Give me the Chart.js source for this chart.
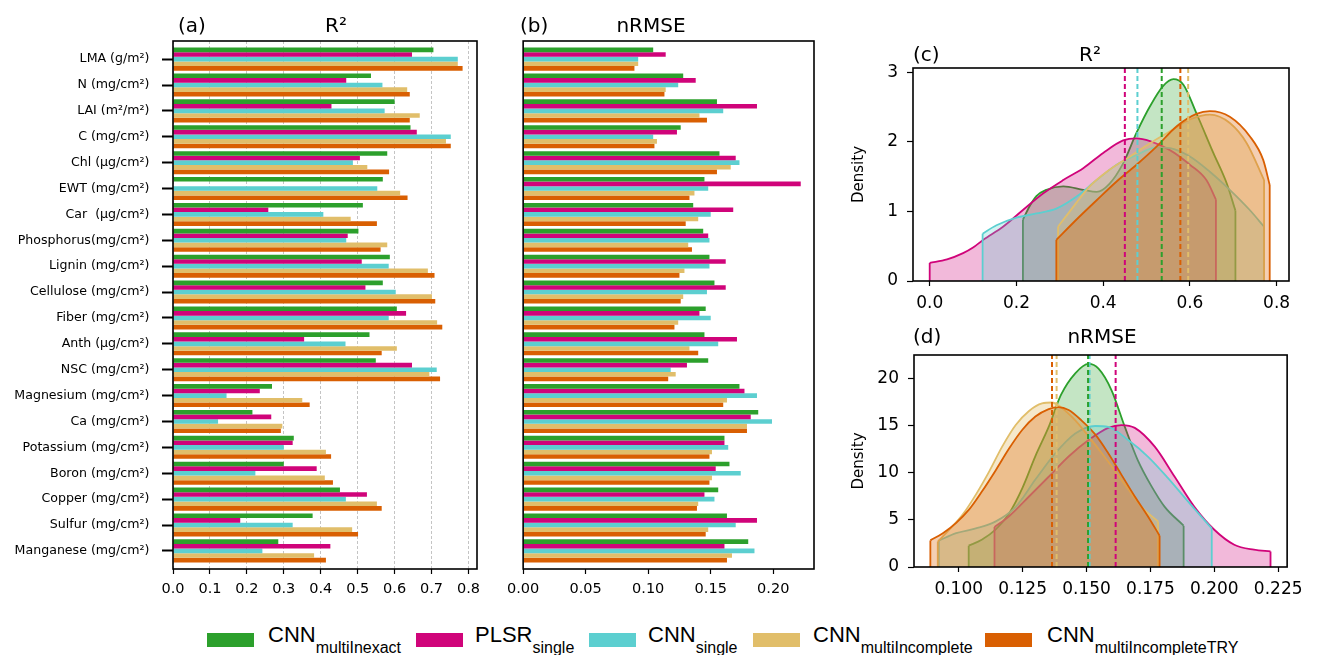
<!DOCTYPE html>
<html>
<head>
<meta charset="utf-8">
<script src="https://cdn.jsdelivr.net/npm/chart.js@4.4.0/dist/chart.umd.min.js"></script>
<style>
  body { margin: 0; background: #fff; width: 1320px; height: 655px; position: relative; overflow: hidden; font-family: 'DejaVu Sans'; }
  canvas { position: absolute; }
  .ttl { position: absolute; font-size: 20px; line-height: 24px; white-space: nowrap; color: #000; }
  .ctr { transform: translateX(-50%); }
  .sw { position: absolute; top: 633px; width: 47px; height: 14px; }
  .lg { position: absolute; top: 624px; font-family: 'Liberation Sans'; font-size: 22px; line-height: 22px; white-space: nowrap; color: #000; }
  .lg sub { font-size: 16px; vertical-align: baseline; position: relative; top: 11px; }
</style>
</head>
<body>
<canvas id="ca" width="495" height="610" style="left:0;top:0"></canvas>
<canvas id="cb" width="330" height="610" style="left:500px;top:0"></canvas>
<canvas id="cc" width="480" height="290" style="left:830px;top:30px"></canvas>
<canvas id="cd" width="480" height="290" style="left:830px;top:320px"></canvas>

<div class="ttl" style="left:178px;top:13px">(a)</div>
<div class="ttl ctr" style="left:336px;top:13px">R²</div>
<div class="ttl" style="left:520px;top:13px">(b)</div>
<div class="ttl ctr" style="left:651px;top:13px">nRMSE</div>
<div class="ttl" style="left:913px;top:42px">(c)</div>
<div class="ttl ctr" style="left:1090px;top:42px">R²</div>
<div class="ttl" style="left:913px;top:324px">(d)</div>
<div class="ttl ctr" style="left:1102px;top:324px">nRMSE</div>

<div id="legend"></div>

<script>
// panel (a)/(b) categories, top to bottom
const categories = ['LMA (g/m²)', 'N (mg/cm²)', 'LAI (m²/m²)', 'C (mg/cm²)', 'Chl (µg/cm²)',
  'EWT (mg/cm²)', 'Car  (µg/cm²)', 'Phosphorus(mg/cm²)', 'Lignin (mg/cm²)', 'Cellulose (mg/cm²)',
  'Fiber (mg/cm²)', 'Anth (µg/cm²)', 'NSC (mg/cm²)', 'Magnesium (mg/cm²)', 'Ca (mg/cm²)',
  'Potassium (mg/cm²)', 'Boron (mg/cm²)', 'Copper (mg/cm²)', 'Sulfur (mg/cm²)', 'Manganese (mg/cm²)'];

const seriesMain = ['CNN', 'PLSR', 'CNN', 'CNN', 'CNN'];
const seriesSub = ['multiInexact', 'single', 'single', 'multiIncomplete', 'multiIncompleteTRY'];
const colors = ['#2ca02c', '#d0047a', '#5ccfd0', '#e1be6a', '#d95f02'];
const fills = ['rgba(44,160,44,0.28)', 'rgba(208,4,122,0.28)', 'rgba(92,207,208,0.28)', 'rgba(225,190,106,0.35)', 'rgba(217,95,2,0.3)'];

// R2 per category
const r2Green   = [0.705, 0.536, 0.600, 0.643, 0.580, 0.568, 0.514, 0.502, 0.587, 0.568, 0.606, 0.532, 0.549, 0.268, 0.215, 0.327, 0.300, 0.452, 0.378, 0.285];
const r2Magenta = [0.647, 0.469, 0.429, 0.660, 0.506, 0.000, 0.258, 0.473, 0.511, 0.521, 0.631, 0.355, 0.647, 0.235, 0.266, 0.324, 0.389, 0.525, 0.182, 0.426];
const r2Cyan    = [0.771, 0.567, 0.573, 0.752, 0.487, 0.553, 0.407, 0.469, 0.584, 0.603, 0.584, 0.467, 0.714, 0.145, 0.122, 0.300, 0.223, 0.468, 0.324, 0.242];
const r2Tan     = [0.771, 0.634, 0.668, 0.739, 0.526, 0.615, 0.481, 0.580, 0.690, 0.701, 0.715, 0.606, 0.694, 0.350, 0.296, 0.414, 0.411, 0.552, 0.485, 0.382];
const r2Orange  = [0.784, 0.641, 0.641, 0.752, 0.585, 0.635, 0.552, 0.562, 0.708, 0.710, 0.729, 0.565, 0.723, 0.370, 0.292, 0.428, 0.433, 0.565, 0.501, 0.414];

// nRMSE per category
const nGreen   = [0.104, 0.128, 0.155, 0.126, 0.157, 0.145, 0.136, 0.144, 0.149, 0.153, 0.146, 0.145, 0.148, 0.173, 0.188, 0.161, 0.165, 0.156, 0.163, 0.180];
const nMagenta = [0.114, 0.138, 0.187, 0.123, 0.170, 0.222, 0.168, 0.148, 0.162, 0.162, 0.141, 0.171, 0.131, 0.177, 0.182, 0.161, 0.154, 0.145, 0.187, 0.161];
const nCyan    = [0.092, 0.124, 0.160, 0.104, 0.173, 0.148, 0.150, 0.149, 0.149, 0.147, 0.150, 0.156, 0.118, 0.187, 0.199, 0.164, 0.174, 0.153, 0.170, 0.185];
const nTan     = [0.092, 0.114, 0.141, 0.107, 0.166, 0.137, 0.140, 0.132, 0.129, 0.128, 0.124, 0.133, 0.122, 0.163, 0.179, 0.151, 0.151, 0.140, 0.148, 0.167];
const nOrange  = [0.089, 0.113, 0.147, 0.105, 0.155, 0.133, 0.130, 0.135, 0.125, 0.126, 0.121, 0.140, 0.116, 0.160, 0.179, 0.149, 0.149, 0.139, 0.146, 0.163];

// density curves (c), [x, density]
const r2DensGreen   = [[0.215,0.88],[0.230,1.07],[0.246,1.22],[0.269,1.31],[0.308,1.36],[0.354,1.31],[0.385,1.28],[0.415,1.40],[0.446,1.69],[0.477,2.13],[0.508,2.51],[0.538,2.80],[0.562,2.90],[0.585,2.82],[0.615,2.41],[0.654,1.84],[0.685,1.40],[0.705,1.01]];
const r2DensMagenta = [[0.000,0.26],[0.040,0.31],[0.077,0.40],[0.100,0.48],[0.123,0.59],[0.169,0.78],[0.215,1.02],[0.262,1.26],[0.308,1.45],[0.354,1.62],[0.400,1.84],[0.446,2.02],[0.477,2.05],[0.508,2.01],[0.554,1.88],[0.600,1.67],[0.638,1.45],[0.660,1.17]];
const r2DensCyan    = [[0.122,0.68],[0.154,0.80],[0.200,0.91],[0.246,0.97],[0.292,1.04],[0.338,1.21],[0.385,1.45],[0.431,1.67],[0.477,1.81],[0.523,1.92],[0.554,1.91],[0.600,1.79],[0.646,1.57],[0.692,1.31],[0.738,1.02],[0.771,0.78]];
const r2DensTan     = [[0.296,0.78],[0.323,1.00],[0.369,1.36],[0.415,1.60],[0.462,1.79],[0.508,1.98],[0.554,2.15],[0.600,2.32],[0.646,2.39],[0.692,2.27],[0.731,1.98],[0.771,1.45]];
const r2DensOrange  = [[0.292,0.59],[0.338,0.88],[0.385,1.16],[0.431,1.43],[0.477,1.67],[0.523,1.93],[0.569,2.22],[0.615,2.40],[0.646,2.44],[0.692,2.36],[0.738,2.08],[0.769,1.74],[0.784,1.38]];
const r2Medians = [0.535, 0.450, 0.479, 0.596, 0.578];

// density curves (d)
const nDensGreen   = [[0.1039,2.27],[0.109,2.9],[0.1145,4.0],[0.1197,5.7],[0.1249,8.4],[0.130,11.8],[0.1352,14.9],[0.140,18.3],[0.1456,20.6],[0.1508,21.6],[0.1547,21.1],[0.1598,18.8],[0.165,14.9],[0.170,11.4],[0.1754,8.6],[0.1806,6.4],[0.188,4.4]];
const nDensMagenta = [[0.114,4.25],[0.1197,5.4],[0.1275,7.5],[0.1352,9.6],[0.143,11.75],[0.1508,13.5],[0.1585,14.8],[0.1637,15.1],[0.1689,14.8],[0.1767,12.8],[0.1845,9.6],[0.1922,6.4],[0.200,3.96],[0.2078,2.37],[0.2155,1.84],[0.222,1.66]];
const nDensCyan    = [[0.0922,2.8],[0.099,3.6],[0.1067,4.1],[0.1145,4.85],[0.1223,6.4],[0.130,9.3],[0.1378,12.1],[0.1456,14.2],[0.1534,15.0],[0.1585,14.9],[0.1663,13.5],[0.174,11.75],[0.1819,9.45],[0.1896,7.0],[0.199,4.1]];
const nDensTan     = [[0.0918,2.7],[0.0964,4.0],[0.1016,5.6],[0.1067,7.7],[0.112,10.2],[0.117,12.8],[0.1223,15.1],[0.1275,16.6],[0.1326,17.4],[0.1365,17.5],[0.140,17.0],[0.1456,15.6],[0.1508,13.9],[0.156,12.1],[0.161,10.3],[0.166,8.4],[0.1715,6.4],[0.178,4.85]];
const nDensOrange  = [[0.0889,2.83],[0.0938,3.6],[0.099,4.7],[0.104,6.1],[0.109,8.0],[0.1145,10.3],[0.1197,12.6],[0.1249,14.6],[0.130,16.0],[0.1352,16.8],[0.139,17.0],[0.143,16.7],[0.148,15.6],[0.1534,14.1],[0.1585,12.1],[0.1637,9.8],[0.1689,7.5],[0.174,5.4],[0.1786,3.33]];
const nMedians = [0.1506, 0.1614, 0.1512, 0.1383, 0.1365];

// tick labels
const r2BarTicks = [0, 0.1, 0.2, 0.3, 0.4, 0.5, 0.6, 0.7, 0.8];
const nBarTicks = [0, 0.05, 0.10, 0.15, 0.20];
const r2DensXTicks = [0, 0.2, 0.4, 0.6, 0.8];
const r2DensYTicks = [0, 1, 2, 3];
const nDensXTicks = [0.100, 0.125, 0.150, 0.175, 0.200, 0.225];
const nDensYTicks = [0, 5, 10, 15, 20];

const R2_DENS_YMAX = 3.06;
const N_DENS_YMAX = 22.55;

Chart.defaults.font.family = 'DejaVu Sans';
Chart.defaults.color = '#000';
Chart.defaults.animation = false;
Chart.defaults.responsive = false;
Chart.defaults.devicePixelRatio = 1;
Chart.defaults.plugins.legend.display = false;
Chart.defaults.plugins.tooltip.enabled = false;

// black box round the plot area
const frame = {
  id: 'frame',
  afterDraw(chart) {
    const { ctx, chartArea: a } = chart;
    ctx.save();
    ctx.strokeStyle = '#000';
    ctx.lineWidth = 1.6;
    ctx.strokeRect(a.left, a.top, a.right - a.left, a.bottom - a.top);
    ctx.restore();
  }
};

const setTicks = list => scale => { scale.ticks = list.map(v => ({ value: v })); };

function barSets(rows) {
  return rows.map((row, k) => ({
    label: seriesMain[k] + seriesSub[k],
    data: row.map((v, i) => ({ x: v, y: i })),
    backgroundColor: colors[k],
    borderWidth: 0,
    categoryPercentage: 0.89,
    barPercentage: 1
  }));
}

function catAxis(showLabels) {
  return {
    type: 'linear', reverse: true, min: -0.7, max: 19.7, offset: false,
    display: showLabels,
    afterBuildTicks: setTicks(categories.map((c, i) => i)),
    afterFit: s => { s.width = showLabels ? 173 : 0; },
    ticks: { autoSkip: false, callback: v => categories[v], font: { size: 12.6 }, padding: 12.5 },
    grid: { offset: false, drawOnChartArea: false, drawTicks: true, tickLength: 11, tickWidth: 2, tickColor: '#000' },
    border: { display: false }
  };
}

// (a) R2 bars
new Chart(document.getElementById('ca'), {
  type: 'bar',
  data: { datasets: barSets([r2Green, r2Magenta, r2Cyan, r2Tan, r2Orange]) },
  options: {
    indexAxis: 'y',
    layout: { padding: { left: 0, top: 41, right: 18, bottom: 0 } },
    scales: {
      x: {
        type: 'linear', min: 0, max: 0.823,
        afterBuildTicks: setTicks(r2BarTicks),
        afterFit: s => { s.height = 41; },
        ticks: { callback: v => v.toFixed(1), font: { size: 14.5 }, padding: 7, autoSkip: false, maxRotation: 0, minRotation: 0 },
        grid: { color: '#b5b5b5', lineWidth: 0.8, tickLength: 5, tickColor: '#000', tickWidth: 1.2, tickBorderDash: [] },
        border: { display: false, dash: [3, 2] }
      },
      y: catAxis(true)
    }
  },
  plugins: [frame]
});

// (b) nRMSE bars
new Chart(document.getElementById('cb'), {
  type: 'bar',
  data: { datasets: barSets([nGreen, nMagenta, nCyan, nTan, nOrange]) },
  options: {
    indexAxis: 'y',
    layout: { padding: { left: 14, top: 41, right: 16, bottom: 0 } },
    scales: {
      x: {
        type: 'linear', min: 0, max: 0.2326,
        afterBuildTicks: setTicks(nBarTicks),
        afterFit: s => { s.height = 41; },
        ticks: { callback: v => v.toFixed(2), font: { size: 14.5 }, padding: 7, autoSkip: false, maxRotation: 0, minRotation: 0 },
        grid: { drawOnChartArea: false, tickLength: 5, tickColor: '#000', tickWidth: 1.2 },
        border: { display: false }
      },
      y: catAxis(false)
    }
  },
  plugins: [frame]
});

function densSets(curves, medians, ymax) {
  const sets = [];
  curves.forEach((pts, k) => {
    const data = pts.map(p => ({ x: p[0], y: p[1] }));
    sets.push({
      data, borderColor: colors[k], backgroundColor: fills[k], borderWidth: 1.8,
      fill: 'origin', pointRadius: 0, cubicInterpolationMode: 'monotone', order: 50 - 10 * k
    });
    const first = data[0], last = data[data.length - 1];
    [first, last].forEach(p => sets.push({
      data: [{ x: p.x, y: 0 }, { x: p.x, y: p.y }], borderColor: colors[k], borderWidth: 1.8,
      fill: false, pointRadius: 0, tension: 0, order: 49 - 10 * k
    }));
  });
  medians.forEach((m, k) => sets.push({
    data: [{ x: m, y: 0 }, { x: m, y: ymax }], borderColor: colors[k], borderWidth: 2,
    borderDash: [5, 3], fill: false, pointRadius: 0, tension: 0, order: 0
  }));
  return sets;
}

function densOptions(pad, yWidth, xHeight, xr, xTicks, xDigits, ymax, yTicks) {
  return {
    layout: { padding: pad },
    scales: {
      x: {
        type: 'linear', min: xr[0], max: xr[1],
        afterBuildTicks: setTicks(xTicks),
        afterFit: s => { s.height = xHeight; },
        ticks: { callback: v => v.toFixed(xDigits), font: { size: 17 }, padding: 7, autoSkip: false, maxRotation: 0, minRotation: 0 },
        grid: { drawOnChartArea: false, tickLength: 5, tickColor: '#000', tickWidth: 1.2 },
        border: { display: false }
      },
      y: {
        type: 'linear', min: 0, max: ymax,
        afterBuildTicks: setTicks(yTicks),
        afterFit: s => { s.width = yWidth; },
        ticks: { callback: v => String(v), font: { size: 17 }, padding: 9, autoSkip: false },
        grid: { drawOnChartArea: false, tickLength: 6, tickColor: '#000', tickWidth: 1.2 },
        border: { display: false },
        title: { display: true, text: 'Density', font: { size: 15 }, padding: { top: 20, bottom: 0 } }
      }
    }
  };
}

// (c) R2 density
new Chart(document.getElementById('cc'), {
  type: 'line',
  data: { datasets: densSets([r2DensGreen, r2DensMagenta, r2DensCyan, r2DensTan, r2DensOrange], r2Medians, R2_DENS_YMAX) },
  options: densOptions({ left: 0, top: 38, right: 21, bottom: 0 }, 83, 39, [-0.0385, 0.8285], r2DensXTicks, 1, R2_DENS_YMAX, r2DensYTicks),
  plugins: [frame]
});

// (d) nRMSE density
new Chart(document.getElementById('cd'), {
  type: 'line',
  data: { datasets: densSets([nDensGreen, nDensMagenta, nDensCyan, nDensTan, nDensOrange], nMedians, N_DENS_YMAX) },
  options: densOptions({ left: 0, top: 35, right: 20, bottom: 0 }, 84, 43, [0.0825, 0.2285], nDensXTicks, 3, N_DENS_YMAX, nDensYTicks),
  plugins: [frame]
});

// legend with subscripts
const swatchLeft = [207, 416, 589, 753, 985];
const textLeft = [268, 475, 648, 813, 1047];
const legend = document.getElementById('legend');
seriesMain.forEach((m, k) => {
  const sw = document.createElement('div');
  sw.className = 'sw';
  sw.style.left = swatchLeft[k] + 'px';
  sw.style.background = colors[k];
  legend.appendChild(sw);
  const t = document.createElement('div');
  t.className = 'lg';
  t.style.left = textLeft[k] + 'px';
  t.innerHTML = m + '<sub>' + seriesSub[k] + '</sub>';
  legend.appendChild(t);
});
</script>
</body>
</html>
